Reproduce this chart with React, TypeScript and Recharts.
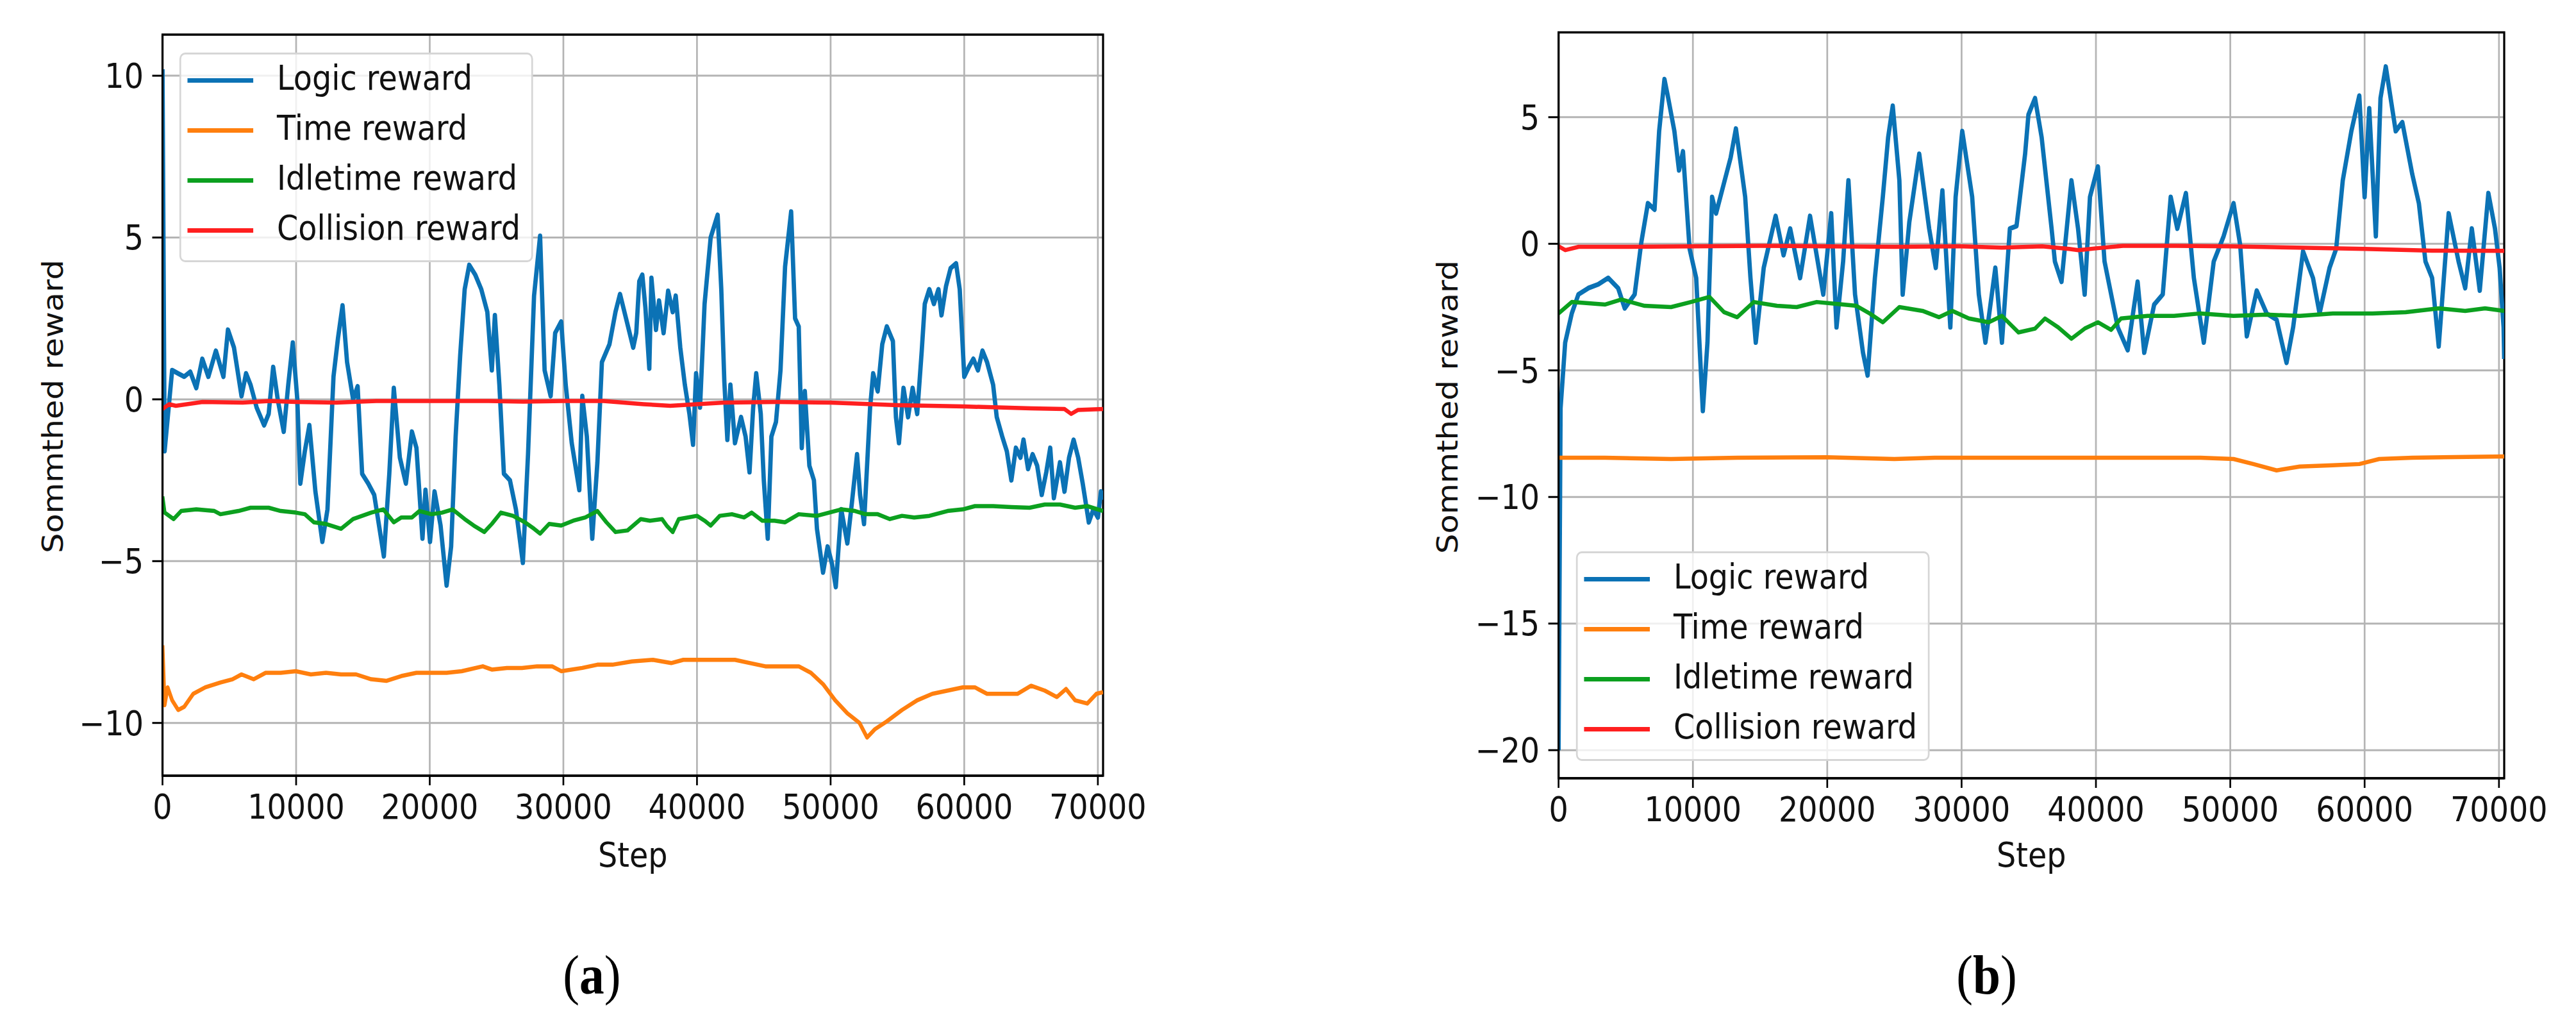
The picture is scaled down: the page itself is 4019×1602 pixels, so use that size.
import React from "react";
import { LineChart, Line, XAxis, YAxis, CartesianGrid, Legend, Label, ReferenceArea } from "recharts";

// the reference figure is horizontally squeezed, so everything is laid out wider and scaled back
const SX = 0.9;
const FONT = "'DejaVu Sans', sans-serif";
const TEXT = "#111";

const seriesNames = ["Logic reward", "Time reward", "Idletime reward", "Collision reward"];
const seriesColors = ["#0b72b5", "#ff7f0e", "#0ca01f", "#ff1f1f"];
const stepTicks = [0, 10000, 20000, 30000, 40000, 50000, 60000, 70000];
const rewardTicksA = [-10, -5, 0, 5, 10];
const rewardTicksB = [-20, -15, -10, -5, 0, 5];
const STEP_MAX = 70390;

// ---- panel (a) ----
const logicStepsA = [0, 158, 271, 722, 1174, 1625, 2076, 2528, 2979, 3431, 3995, 4559, 4898, 5349, 5913, 6252, 6590, 7042, 7606, 7945, 8283, 8622, 9073, 9412, 9750, 10089, 10315, 10653, 10992, 11443, 11962, 12346, 12797, 13136, 13474, 13813, 14264, 14603, 14941, 15393, 15844, 16566, 16973, 17311, 17763, 18214, 18665, 19004, 19455, 19681, 20020, 20358, 20810, 21261, 21600, 21938, 22277, 22615, 22954, 23405, 23856, 24308, 24646, 24875, 25210, 25550, 26000, 26450, 26970, 27355, 27806, 28258, 28596, 29047, 29386, 29837, 30176, 30627, 31192, 31417, 31756, 32162, 32546, 32884, 33449, 33900, 34239, 34690, 35227, 35454, 35681, 35909, 36136, 36431, 36590, 36931, 37159, 37500, 37841, 38182, 38409, 38750, 39091, 39432, 39705, 39932, 40227, 40568, 41023, 41546, 41818, 42046, 42273, 42500, 42841, 43296, 43637, 43932, 44205, 44432, 44773, 45000, 45296, 45569, 45910, 46251, 46592, 47046, 47342, 47614, 47842, 48069, 48410, 48751, 48978, 49433, 49774, 50114, 50387, 50796, 51251, 51592, 51978, 52206, 52501, 52956, 53183, 53524, 53865, 54206, 54661, 54888, 55115, 55456, 55797, 56138, 56479, 56820, 57047, 57388, 57729, 58070, 58298, 58639, 58979, 59388, 59661, 60002, 60343, 60684, 61025, 61366, 61707, 62162, 62434, 62843, 63185, 63526, 63867, 64207, 64435, 64776, 65117, 65458, 65799, 66140, 66435, 66708, 67163, 67503, 67844, 68185, 68526, 68867, 69322, 69663, 70004, 70231, 70390];
const logicA = [10.2, -1.6, -1.1, 0.9, 0.8, 0.7, 0.85, 0.35, 1.25, 0.7, 1.5, 0.7, 2.15, 1.6, 0.1, 0.8, 0.45, -0.25, -0.8, -0.45, 1.0, 0, -1.0, 0.45, 1.75, 0, -2.6, -1.6, -0.8, -2.85, -4.4, -3.4, 0.7, 1.9, 2.9, 1.15, 0, 0.4, -2.3, -2.6, -2.95, -4.85, -2.3, 0.35, -1.8, -2.6, -1.0, -1.5, -4.3, -2.8, -4.4, -2.85, -3.9, -5.75, -4.55, -1.15, 1.35, 3.4, 4.15, 3.85, 3.4, 2.7, 0.9, 2.6, 0.45, -2.3, -2.5, -3.4, -5.05, -1.7, 3.2, 5.05, 0.9, 0.1, 2.05, 2.4, 0.45, -1.35, -2.8, 0.1, -1.15, -4.3, -1.95, 1.15, 1.7, 2.7, 3.25, 2.5, 1.6, 2.05, 3.65, 3.85, 2.85, 0.95, 3.75, 2.15, 3.05, 2.05, 3.35, 2.7, 3.2, 1.6, 0.45, -0.45, -1.4, 0.8, -0.25, 2.95, 5.0, 5.7, 3.4, 0.55, -1.25, 0.45, -1.35, -0.55, -1.15, -2.25, -0.25, 0.8, -0.45, -2.5, -4.3, -1.15, -0.7, 0.9, 4.1, 5.8, 2.5, 2.25, -1.5, 0.25, -2.05, -2.5, -4.0, -5.35, -4.55, -5.1, -5.8, -3.4, -4.45, -3.2, -1.7, -2.95, -3.85, -0.25, 0.8, 0.25, 1.7, 2.25, 1.8, -0.55, -1.35, 0.35, -0.55, 0.35, -0.45, 1.5, 2.95, 3.4, 2.95, 3.4, 2.6, 3.5, 4.05, 4.2, 3.4, 0.7, 1.0, 1.25, 0.9, 1.5, 1.15, 0.45, -0.55, -1.15, -1.6, -2.5, -1.5, -1.8, -1.25, -2.15, -1.7, -2.05, -2.95, -2.25, -1.5, -3.05, -1.95, -2.85, -1.8, -1.25, -1.8, -2.6, -3.8, -3.4, -3.65, -2.85, -3.1];

const timeStepsA = [0, 158, 384, 722, 1174, 1625, 2302, 3205, 4333, 5236, 5913, 6816, 7719, 8847, 9976, 11104, 12233, 13361, 14490, 15618, 16747, 17875, 19004, 20132, 21261, 22389, 23969, 24646, 25775, 26903, 28032, 29160, 29837, 31417, 32546, 33674, 35141, 36704, 38068, 38977, 40114, 41705, 42841, 43978, 45114, 46251, 47614, 48524, 49433, 50342, 51251, 52160, 52728, 53297, 54206, 55343, 56479, 57616, 58752, 59888, 60797, 61707, 63071, 63980, 65003, 66026, 66935, 67617, 68299, 69208, 69890, 70390];
const timeA = [-7.6, -9.45, -8.9, -9.3, -9.6, -9.5, -9.1, -8.9, -8.75, -8.65, -8.5, -8.65, -8.45, -8.45, -8.4, -8.5, -8.45, -8.5, -8.5, -8.65, -8.7, -8.55, -8.45, -8.45, -8.45, -8.4, -8.25, -8.35, -8.3, -8.3, -8.25, -8.25, -8.4, -8.3, -8.2, -8.2, -8.1, -8.05, -8.15, -8.05, -8.05, -8.05, -8.05, -8.15, -8.25, -8.25, -8.25, -8.45, -8.8, -9.3, -9.7, -10.0, -10.45, -10.2, -9.95, -9.6, -9.3, -9.1, -9.0, -8.9, -8.9, -9.1, -9.1, -9.1, -8.85, -9.0, -9.2, -8.95, -9.3, -9.4, -9.1, -9.05];

const idleStepsA = [0, 158, 835, 1399, 2528, 3882, 4333, 5688, 6590, 7945, 8847, 9976, 10653, 11330, 12233, 13361, 14264, 15618, 16521, 17311, 17875, 18665, 19230, 20132, 20922, 21712, 22615, 23292, 24082, 24646, 25324, 26227, 27129, 27806, 28258, 28935, 29837, 30740, 31643, 32546, 33223, 33900, 34803, 35795, 36477, 37386, 37727, 38182, 38636, 40000, 40568, 41023, 41705, 42614, 43523, 44091, 44887, 45796, 46592, 47614, 48978, 49887, 50796, 51819, 52614, 53524, 54433, 55343, 56252, 57388, 58752, 59888, 60797, 62161, 63526, 64890, 66026, 67163, 68299, 69208, 70390];
const idleA = [-3.0, -3.5, -3.7, -3.45, -3.4, -3.45, -3.55, -3.45, -3.35, -3.35, -3.45, -3.5, -3.55, -3.8, -3.85, -4.0, -3.7, -3.5, -3.4, -3.8, -3.65, -3.65, -3.45, -3.55, -3.5, -3.4, -3.7, -3.9, -4.1, -3.85, -3.5, -3.6, -3.8, -4.0, -4.15, -3.85, -3.9, -3.75, -3.65, -3.45, -3.8, -4.1, -4.05, -3.7, -3.75, -3.7, -3.9, -4.1, -3.7, -3.6, -3.75, -3.9, -3.6, -3.55, -3.65, -3.5, -3.75, -3.75, -3.8, -3.55, -3.6, -3.5, -3.4, -3.45, -3.55, -3.55, -3.7, -3.6, -3.65, -3.6, -3.45, -3.4, -3.3, -3.3, -3.33, -3.35, -3.25, -3.25, -3.35, -3.3, -3.45];

const collisionStepsA = [0, 500, 1000, 3000, 6000, 8000, 10000, 13000, 16000, 20000, 24000, 27000, 30000, 33000, 36000, 38000, 40000, 42000, 46000, 50000, 55000, 60000, 65000, 67500, 68000, 68500, 70390];
const collisionA = [-0.3, -0.15, -0.2, -0.08, -0.1, -0.05, -0.08, -0.1, -0.05, -0.05, -0.05, -0.07, -0.05, -0.05, -0.15, -0.2, -0.15, -0.1, -0.08, -0.1, -0.18, -0.22, -0.28, -0.3, -0.45, -0.33, -0.3];

// ---- panel (b) ----
const logicStepsB = [0, 150, 493, 985, 1478, 2217, 2956, 3695, 4433, 4926, 5665, 6158, 6650, 7143, 7488, 7882, 8128, 8621, 8965, 9261, 9753, 10246, 10739, 11084, 11428, 11724, 12315, 12808, 13202, 13891, 14285, 14679, 15271, 16157, 16748, 17241, 17980, 18719, 19704, 20295, 20689, 21182, 21576, 22068, 22660, 23004, 23546, 24137, 24531, 24876, 25369, 25615, 26108, 26847, 27586, 28078, 28571, 29162, 29556, 30049, 30788, 31280, 31773, 32512, 33004, 33595, 34088, 34728, 34975, 35467, 35960, 36699, 36945, 37438, 38177, 38669, 39162, 39556, 40147, 40640, 41132, 41625, 42364, 43103, 43595, 44334, 44974, 45566, 46058, 46698, 47290, 48029, 48767, 49506, 50245, 50738, 51230, 51969, 52708, 53447, 54186, 54679, 55418, 56156, 56649, 57388, 57881, 58373, 59013, 59605, 59999, 60344, 60836, 61181, 61575, 62314, 62807, 63545, 64038, 64531, 65023, 65516, 66255, 66994, 67486, 67979, 68570, 69210, 69703, 70048, 70344, 70390];
const logicB = [-20.0, -6.5, -3.9, -2.75, -2.0, -1.75, -1.6, -1.35, -1.75, -2.55, -2.0, 0.05, 1.6, 1.35, 4.45, 6.5, 5.85, 4.45, 2.9, 3.65, -0.2, -1.35, -6.6, -3.9, 1.85, 1.2, 2.4, 3.4, 4.55, 1.85, -1.35, -3.9, -0.95, 1.1, -0.45, 0.6, -1.35, 1.1, -2.0, 1.2, -3.3, -0.7, 2.5, -2.0, -4.3, -5.2, -1.35, 1.85, 4.2, 5.45, 2.5, -2.0, 0.85, 3.55, 0.6, -0.95, 2.1, -3.3, 1.85, 4.45, 1.85, -2.0, -3.9, -0.95, -3.9, 0.6, 0.7, 3.55, 5.1, 5.75, 4.2, 0.6, -0.7, -1.5, 2.5, 0.6, -2.0, 1.85, 3.05, -0.7, -2.0, -3.3, -4.2, -1.5, -4.3, -2.4, -2.0, 1.85, 0.6, 2.0, -1.35, -3.9, -0.7, 0.3, 1.6, -0.05, -3.65, -1.85, -2.75, -3.0, -4.7, -3.3, -0.3, -1.35, -2.75, -0.95, -0.2, 2.5, 4.45, 5.85, 1.85, 5.35, 0.3, 5.75, 7.0, 4.45, 4.8, 2.75, 1.6, -0.7, -1.35, -4.05, 1.2, -0.7, -1.75, 0.6, -1.85, 2.0, 0.6, -0.95, -3.3, -4.55];

const timeStepsB = [0, 3448, 8374, 13300, 20000, 25000, 28000, 37000, 47782, 50245, 51723, 53447, 55171, 57634, 59605, 61083, 63545, 70390];
const timeB = [-8.45, -8.45, -8.5, -8.45, -8.43, -8.5, -8.45, -8.45, -8.45, -8.5, -8.7, -8.95, -8.8, -8.75, -8.7, -8.5, -8.45, -8.4];

const idleStepsB = [0, 985, 3448, 4680, 6404, 8374, 9852, 11231, 12315, 13300, 14532, 16256, 17734, 19211, 21182, 22167, 23152, 24137, 25369, 27093, 28325, 29310, 30541, 32019, 33004, 34236, 35467, 36206, 37191, 38177, 39162, 40147, 41132, 41871, 43841, 45812, 47782, 50245, 52708, 55171, 57634, 60590, 63053, 65516, 67486, 68964, 70390];
const idleB = [-2.75, -2.3, -2.4, -2.2, -2.45, -2.5, -2.3, -2.1, -2.7, -2.9, -2.3, -2.45, -2.5, -2.3, -2.4, -2.45, -2.75, -3.1, -2.5, -2.65, -2.9, -2.65, -2.95, -3.1, -2.85, -3.5, -3.35, -2.95, -3.3, -3.75, -3.35, -3.1, -3.4, -2.95, -2.85, -2.85, -2.75, -2.85, -2.8, -2.85, -2.75, -2.75, -2.7, -2.55, -2.65, -2.55, -2.65];

const collisionStepsB = [0, 500, 1500, 5000, 10000, 15000, 20000, 25000, 30000, 33000, 36000, 38000, 38700, 40000, 42000, 46000, 50000, 55000, 60000, 65000, 70390];
const collisionB = [-0.1, -0.25, -0.12, -0.12, -0.1, -0.08, -0.1, -0.12, -0.1, -0.15, -0.1, -0.2, -0.25, -0.18, -0.08, -0.08, -0.1, -0.15, -0.2, -0.27, -0.28];

type Pt = { step: number; v: number };
const pts = (steps: number[], vals: number[]): Pt[] => steps.map((s, i) => ({ step: s, v: vals[i] }));

const fmt = (v: number) => (v < 0 ? "\u2212" + Math.abs(v) : String(v));

const LEG_W = 613;
const LEG_H = 327;
const legendRows = [43, 121, 199, 277];

const LegendBox = () => (
  <div
    style={{
      position: "relative",
      width: LEG_W,
      height: LEG_H,
      boxSizing: "border-box",
      border: "3px solid #d6d6d6",
      borderRadius: 10,
      background: "rgba(255,255,255,0.8)",
      fontFamily: FONT,
      fontSize: 53,
      color: TEXT,
    }}
  >
    {seriesNames.map((name, i) => {
      const cy = legendRows[i] - 3;
      return (
        <React.Fragment key={name}>
          <div style={{ position: "absolute", left: 11, top: cy - 3.5, width: 114, height: 7, background: seriesColors[i] }} />
          <div style={{ position: "absolute", left: 166, top: cy - 30, lineHeight: "53px", whiteSpace: "nowrap" }}>{name}</div>
        </React.Fragment>
      );
    })}
  </div>
);

interface PanelProps {
  left: number;
  width: number;
  margin: { top: number; right: number; bottom: number; left: number };
  yDomain: [number, number];
  yTicks: number[];
  series: Pt[][];
  legendLeft: number;
  legendTop: number;
  yLabelX: number;
  yLabelY: number;
  captionX: number;
  caption: string;
}

const H = 1602;

function Panel(p: PanelProps) {
  const plotLeft = p.margin.left + 200;
  const plotRight = p.width - p.margin.right;
  const plotCx = (plotLeft + plotRight) / 2;
  return (
    <div style={{ position: "absolute", left: p.left, top: 0 }}>
      <LineChart width={p.width} height={H} margin={p.margin}>
        <CartesianGrid stroke="#b4b4b4" strokeWidth={3} />
        <XAxis
          type="number"
          dataKey="step"
          domain={[0, STEP_MAX]}
          allowDataOverflow
          ticks={stepTicks}
          interval={0}
          height={60}
          axisLine={{ stroke: "#000", strokeWidth: 3.5 }}
          tickLine={{ stroke: "#000", strokeWidth: 3 }}
          tickSize={15}
          tickMargin={14}
          tick={{ fill: TEXT, fontSize: 53, fontFamily: FONT }}
        >
          <Label
            content={() => (
              <g>
                <text x={plotCx} y={1352} textAnchor="middle" fill={TEXT} fontSize={53} fontFamily={FONT}>
                  Step
                </text>
                <text x={p.captionX} y={1550} textAnchor="middle" fill="#000" fontSize={86} fontFamily="'Liberation Serif', serif">
                  (<tspan fontWeight="bold">{p.caption}</tspan>)
                </text>
              </g>
            )}
          />
        </XAxis>
        <YAxis
          type="number"
          domain={p.yDomain}
          allowDataOverflow
          ticks={p.yTicks}
          interval={0}
          width={200}
          tickFormatter={fmt}
          axisLine={{ stroke: "#000", strokeWidth: 3.5 }}
          tickLine={{ stroke: "#000", strokeWidth: 3 }}
          tickSize={17.8}
          tickMargin={15}
          tick={{ fill: TEXT, fontSize: 53, fontFamily: FONT }}
        >
          <Label
            content={() => (
              <text
                x={p.yLabelX}
                y={p.yLabelY}
                transform={`rotate(-90 ${p.yLabelX} ${p.yLabelY})`}
                textAnchor="middle"
                fill={TEXT}
                fontSize={49.5}
                fontFamily={FONT}
              >
                Sommthed reward
              </text>
            )}
          />
        </YAxis>
        {p.series.map((d, i) => (
          <Line
            key={seriesNames[i]}
            data={d}
            dataKey="v"
            name={seriesNames[i]}
            type="linear"
            stroke={seriesColors[i]}
            strokeWidth={i === 0 ? 7.5 : 6.5}
            strokeLinejoin="round"
            dot={false}
            activeDot={false}
            isAnimationActive={false}
          />
        ))}
        {/* axes frame: matplotlib draws all four spines */}
        <ReferenceArea
          x1={0}
          x2={STEP_MAX}
          y1={p.yDomain[0]}
          y2={p.yDomain[1]}
          fill="none"
          fillOpacity={0}
          stroke="#000"
          strokeWidth={3.5}
          strokeOpacity={1}
          ifOverflow="visible"
        />
        <Legend
          layout="horizontal"
          verticalAlign="middle"
          align="center"
          content={LegendBox}
          wrapperStyle={{ left: p.legendLeft, top: p.legendTop, width: LEG_W, height: LEG_H }}
        />
      </LineChart>
    </div>
  );
}

export default function App() {
  const seriesA = [pts(logicStepsA, logicA), pts(timeStepsA, timeA), pts(idleStepsA, idleA), pts(collisionStepsA, collisionA)];
  const seriesB = [pts(logicStepsB, logicB), pts(timeStepsB, timeB), pts(idleStepsB, idleB), pts(collisionStepsB, collisionB)];
  return (
    <div style={{ position: "absolute", left: 0, top: 0, width: 4019, height: H, overflow: "hidden", background: "#fff" }}>
      <div style={{ position: "absolute", left: 0, top: 0, width: 4019 / SX, height: H, transform: `scaleX(${SX})`, transformOrigin: "0 0" }}>
        <Panel
          left={0}
          width={2000}
          margin={{ top: 54, right: 87.8, bottom: H - 1210 - 60, left: 81.7 }}
          yDomain={[-11.63, 11.27]}
          yTicks={rewardTicksA}
          series={seriesA}
          legendLeft={311}
          legendTop={82}
          yLabelX={108.9}
          yLabelY={634}
          captionX={1026}
          caption="a"
        />
        <Panel
          left={2420}
          width={2000}
          margin={{ top: 50.5, right: 78.9, bottom: H - 1214 - 60, left: 81.8 }}
          yDomain={[-21.11, 8.35]}
          yTicks={rewardTicksB}
          series={seriesB}
          legendLeft={312}
          legendTop={860}
          yLabelX={106.7}
          yLabelY={635}
          captionX={1024}
          caption="b"
        />
      </div>
    </div>
  );
}
